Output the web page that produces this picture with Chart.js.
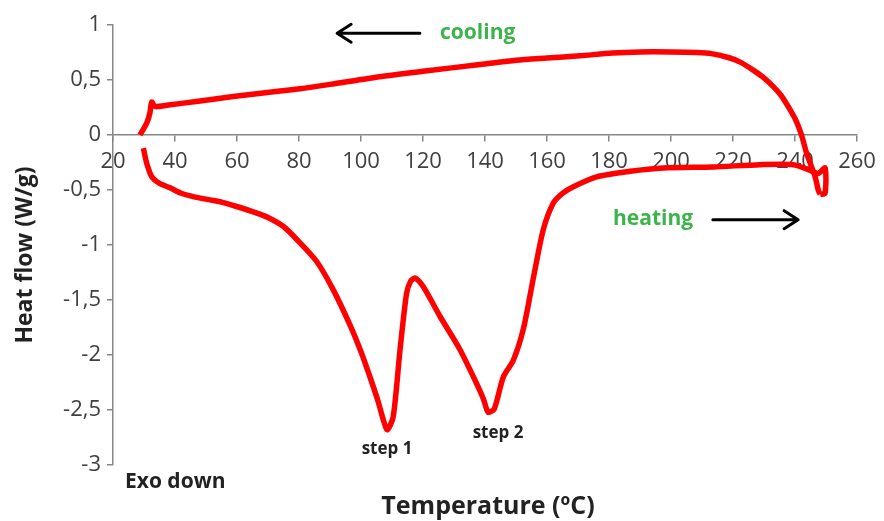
<!DOCTYPE html>
<html>
<head>
<meta charset="utf-8">
<script src="https://cdn.jsdelivr.net/npm/chart.js@4.4.1/dist/chart.umd.min.js"></script>
<style>
  html, body { margin: 0; padding: 0; background: #fff; }
  #wrap { width: 884px; height: 521px; position: relative; }
</style>
</head>
<body>
<div id="wrap"><canvas id="dsc"></canvas></div>
<script>
// curva de calentamiento (temperatura en ºC, flujo en W/g)
const heatingTemp = [29.8, 30.9, 32.5, 35, 38.4, 42, 45.9, 51.3, 55, 59.9, 66.4, 70, 74.9, 79.3, 85.7, 91.1, 96.5, 100, 102.9, 105.5, 107.2, 108.5, 110.4, 112.6, 114.7, 116, 117.4, 120.1, 125.5, 131.9, 137.3, 139.5, 141, 143, 145.9, 149.1, 152.4, 155.6, 158.8, 162, 165, 168.5, 176, 186.8, 197.5, 213.6, 228.7, 239.5, 244.8, 247.5, 249.7, 249.7, 248.1];
const heatingFlow = [-0.12, -0.26, -0.38, -0.44, -0.48, -0.53, -0.56, -0.59, -0.61, -0.65, -0.71, -0.75, -0.83, -0.95, -1.15, -1.41, -1.73, -1.97, -2.2, -2.42, -2.59, -2.68, -2.56, -1.95, -1.44, -1.33, -1.3, -1.38, -1.65, -1.95, -2.26, -2.4, -2.52, -2.49, -2.2, -2.05, -1.76, -1.3, -0.86, -0.62, -0.53, -0.47, -0.38, -0.33, -0.3, -0.29, -0.27, -0.27, -0.32, -0.35, -0.3, -0.53, -0.54];

// curva de enfriamiento (de alta a baja temperatura)
const coolingTemp = [248.1, 247.5, 246.5, 243.8, 242.1, 240.5, 238.4, 235.5, 233, 229.5, 226.5, 222.5, 219, 213, 208.3, 200, 190, 181, 170.6, 160, 150, 138.4, 120, 106, 90, 80.3, 73.9, 58.8, 48.1, 37.3, 33.5, 32.5, 31.9, 30.9, 28.7];
const coolingFlow = [-0.54, -0.5, -0.38, -0.17, 0, 0.12, 0.23, 0.36, 0.44, 0.53, 0.59, 0.66, 0.7, 0.74, 0.75, 0.755, 0.755, 0.745, 0.72, 0.7, 0.68, 0.64, 0.58, 0.53, 0.46, 0.42, 0.4, 0.35, 0.31, 0.27, 0.26, 0.3, 0.2, 0.11, 0];

const yTicks = [1, 0.5, 0, -0.5, -1, -1.5, -2, -2.5, -3];
const xTicks = [20, 40, 60, 80, 100, 120, 140, 160, 180, 200, 220, 240, 260];

const toPoints = (xs, ys) => xs.map((x, i) => ({ x: x, y: ys[i] }));

const axisColor = '#868686';
const labelColor = '#404040';
const font = '"Open Sans", "Liberation Sans", sans-serif';

// textos y flechas del gráfico
const notes = {
  id: 'notes',
  afterDraw(chart) {
    const ctx = chart.ctx;
    const xs = chart.scales.x, ys = chart.scales.y;
    const area = chart.chartArea;
    const px = v => xs.getPixelForValue(v);
    const py = v => ys.getPixelForValue(v);

    ctx.save();
    ctx.textBaseline = 'middle';

    // flechas
    ctx.strokeStyle = '#000';
    ctx.lineWidth = 3;
    ctx.lineCap = 'round';
    ctx.lineJoin = 'round';
    const arrow = (x1, x2, y) => {
      const dir = x2 > x1 ? 1 : -1;
      ctx.beginPath();
      ctx.moveTo(x1, y);
      ctx.lineTo(x2, y);
      ctx.moveTo(x2 - dir * 14, y - 9);
      ctx.lineTo(x2, y);
      ctx.lineTo(x2 - dir * 14, y + 9);
      ctx.stroke();
    };
    arrow(px(119), px(92.3), py(0.925));
    arrow(px(213.5), px(241), py(-0.77));

    ctx.fillStyle = '#3cb44b';
    ctx.font = 'bold 21px ' + font;
    ctx.textAlign = 'left';
    ctx.fillText('cooling', px(125.5), py(0.925));
    ctx.fillText('heating', px(181.3), py(-0.765));

    ctx.fillStyle = '#222';
    ctx.font = 'bold 17px ' + font;
    ctx.textAlign = 'center';
    ctx.fillText('step 1', px(108.4), py(-2.86));
    ctx.fillText('step 2', px(144.2), py(-2.71));

    ctx.font = 'bold 21px ' + font;
    ctx.textAlign = 'left';
    ctx.fillText('Exo down', area.left + 12, area.bottom + 17);

    ctx.font = 'bold 25px ' + font;
    ctx.textAlign = 'center';
    ctx.fillText('Temperature (ºC)', (area.left + area.right) / 2 + 3, area.bottom + 42);

    ctx.translate(25, area.top + 230);
    ctx.rotate(-Math.PI / 2);
    ctx.font = 'bold 23px ' + font;
    ctx.fillText('Heat flow (W/g)', 0, 0);
    ctx.restore();
  }
};

new Chart(document.getElementById('dsc'), {
  type: 'scatter',
  data: {
    datasets: [
      {
        label: 'heating',
        data: toPoints(heatingTemp, heatingFlow),
        showLine: true,
        borderColor: '#ff0000',
        borderWidth: 5.5,
        pointRadius: 0,
        tension: 0.25
      },
      {
        label: 'cooling',
        data: toPoints(coolingTemp, coolingFlow),
        showLine: true,
        borderColor: '#ff0000',
        borderWidth: 5.5,
        pointRadius: 0,
        tension: 0.25
      }
    ]
  },
  options: {
    responsive: true,
    maintainAspectRatio: false,
    animation: false,
    layout: { padding: { left: 33, top: 25, right: 27, bottom: 56 } },
    plugins: {
      legend: { display: false },
      tooltip: { enabled: false }
    },
    scales: {
      x: {
        type: 'linear',
        position: { y: 0 },
        min: 20,
        max: 260,
        afterFit: s => { s.height = 0; },
        afterBuildTicks: s => { s.ticks = xTicks.map(v => ({ value: v })); },
        ticks: { color: labelColor, font: { family: font, size: 22 }, padding: 8 },
        grid: { display: true, drawOnChartArea: false, drawTicks: true, tickLength: 6, color: axisColor, lineWidth: 1.5 },
        border: { display: true, color: axisColor, width: 1.5 }
      },
      y: {
        type: 'linear',
        min: -3,
        max: 1,
        afterFit: s => { s.width = 80; },
        afterBuildTicks: s => { s.ticks = yTicks.map(v => ({ value: v })); },
        ticks: {
          color: labelColor,
          font: { family: font, size: 22 },
          padding: 6,
          callback: v => String(v).replace('.', ',')
        },
        grid: { display: true, drawOnChartArea: false, drawTicks: true, tickLength: 6, color: axisColor, lineWidth: 1.5 },
        border: { display: true, color: axisColor, width: 1.5 }
      }
    }
  },
  plugins: [notes]
});
</script>
</body>
</html>
